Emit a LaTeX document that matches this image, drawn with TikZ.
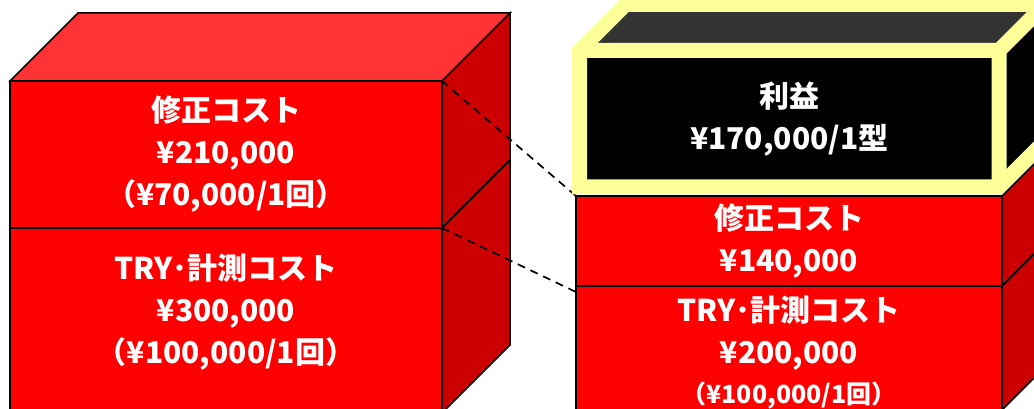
\documentclass[tikz,border=0pt]{standalone}
\usepackage{fontspec}
\setmainfont{Noto Sans CJK JP}
\usepackage{tikz}
\definecolor{red-front}{HTML}{FF0000}
\definecolor{red-top}{HTML}{FF3333}
\definecolor{red-side}{HTML}{CC0000}
\definecolor{profit-top}{HTML}{333333}
\definecolor{profit-edge}{HTML}{FFFF99}

\begin{document}
\begin{tikzpicture}[x=1pt, y=-1pt,
    front/.style={draw=black, line width=1.5pt, inner sep=0pt, outer sep=0pt},
    face/.style={draw=black, line width=1.5pt, line join=miter},
    glow/.style={draw=profit-edge, line width=15pt, line join=miter},
    lbl/.style={text=white, align=center, inner sep=0pt,
      font=\bfseries\fontsize{30}{42}\selectfont},
    guide/.style={black, line width=1.7pt, dash pattern=on 8pt off 6pt}]
  \clip (0,0) rectangle (1034,409);

  % Bloc gauche : faces avant
  \node[front, fill=red-front, minimum width=432pt, minimum height=147pt]
    (lfix) at (226,154.5) {};
  \node[front, fill=red-front, minimum width=432pt, minimum height=185pt]
    (ltry) at (226,320.5) {};
  % Bloc gauche : dessus et cotes
  \filldraw[face, fill=red-top] (lfix.north west) -- ++(68,-68)
    -- ++(432,0) -- (lfix.north east) -- cycle;
  \filldraw[face, fill=red-side] (lfix.north east) -- ++(68,-68)
    -- ++(0,147) -- (lfix.south east) -- cycle;
  \filldraw[face, fill=red-side] (ltry.north east) -- ++(68,-68)
    -- ++(0,185) -- (ltry.south east) -- cycle;

  % Bloc droit : faces avant
  \node[front, fill=red-front, minimum width=426pt, minimum height=90pt]
    (rfix) at (789,241) {};
  \node[front, fill=red-front, minimum width=426pt, minimum height=124pt]
    (rtry) at (789,348) {};
  \filldraw[face, fill=red-side] (rfix.north east) -- ++(68,-68)
    -- ++(0,90) -- (rfix.south east) -- cycle;
  \filldraw[face, fill=red-side] (rtry.north east) -- ++(68,-68)
    -- ++(0,124) -- (rtry.south east) -- cycle;

  % Lignes de rappel
  \draw[guide] (lfix.north east) -- (rfix.north west);
  \draw[guide] (ltry.north east) -- ([yshift=-6pt]rtry.north west);

  % Bloc benefice : faces
  \node[fill=black, inner sep=0pt, outer sep=0pt,
        minimum width=419.5pt, minimum height=136.5pt]
    (rprofit) at (789.25,118.75) {};
  \fill[profit-top] (rprofit.north west) -- ++(46,-46) -- ++(419.5,0)
    -- (rprofit.north east) -- cycle;
  \fill[black] (rprofit.north east) -- ++(46,-46) -- ++(0,136.5)
    -- (rprofit.south east) -- cycle;
  % Bloc benefice : aretes jaunes
  \draw[glow] (rprofit.south west) -- (rprofit.north west) -- ++(46,-46)
    -- ++(419.5,0) -- ++(0,136.5) -- (rprofit.south east) -- cycle;
  \draw[glow] (rprofit.north west) -- (rprofit.north east)
    -- (rprofit.south east) (rprofit.north east) -- ++(46,-46);

  % Textes
  \node[lbl] (lfix-txt) at (lfix) {修正コスト\\¥210,000\\（¥70,000/1回）};
  \node[lbl] (ltry-txt) at ([yshift=8pt]ltry.center)
    {TRY･計測コスト\\¥300,000\\（¥100,000/1回）};
  \node[lbl] (rprofit-txt) at (rprofit) {利益\\¥170,000/1型};
  \node[lbl] (rfix-txt) at (rfix) {修正コスト\\¥140,000};
  \node[lbl] (rtry-txt) at ([yshift=-5pt]rtry.center)
    {TRY･計測コスト\\¥200,000\\[-2pt]{\fontsize{25}{30}\selectfont （¥100,000/1回）}};
\end{tikzpicture}
\end{document}
